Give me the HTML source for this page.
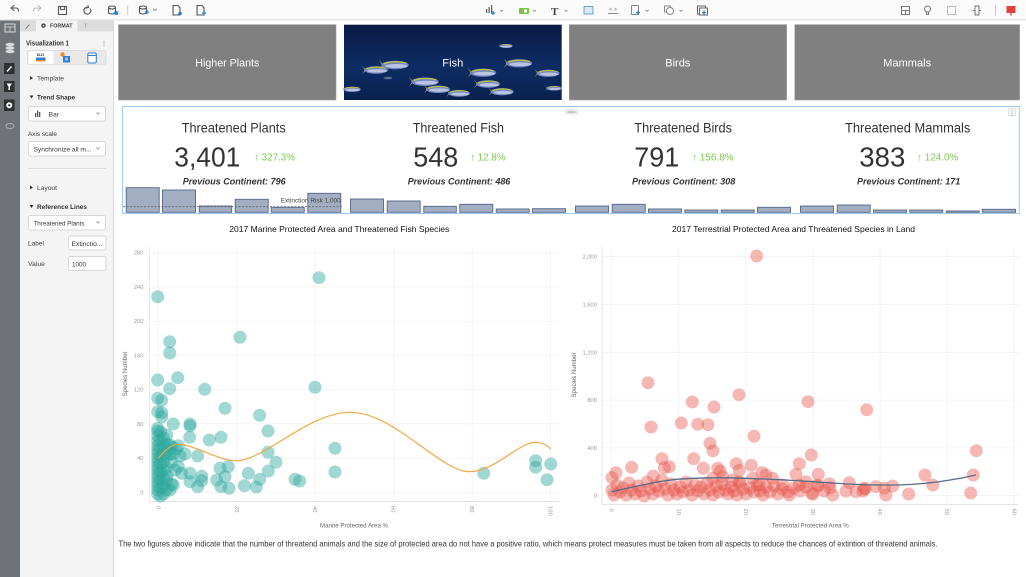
<!DOCTYPE html>
<html><head><meta charset="utf-8"><style>
html,body{margin:0;padding:0;background:#fff;width:1026px;height:577px;overflow:hidden}
svg{display:block}
</style></head><body>
<svg width="1026" height="577" viewBox="0 0 1026 577" xmlns="http://www.w3.org/2000/svg" font-family="'Liberation Sans', Arial, sans-serif">
<defs>
<linearGradient id="sea" x1="0" y1="0" x2="0" y2="1">
<stop offset="0" stop-color="#0a1a46"/><stop offset="0.55" stop-color="#0e2c64"/><stop offset="1" stop-color="#0a2150"/>
</linearGradient>
<g id="fish">
<polygon points="-13,-4 -9,0 -13,4 -10,0" fill="#c9c93a"/>
<ellipse cx="0" cy="0" rx="11" ry="3.4" fill="#6f86be"/>
<ellipse cx="1" cy="0.8" rx="9" ry="1.6" fill="#b9c4e2"/>
<path d="M-9,-1 Q0,-4 9,-1.5" stroke="#c5c63c" stroke-width="1" fill="none"/>
</g>
</defs>
<rect width="1026" height="577" fill="#fff"/>
<!-- toolbar -->
<rect x="0" y="0" width="1026" height="19" fill="#fbfbfb"/>
<rect x="0" y="19" width="1026" height="1.5" fill="#e6e6e6"/>
<g stroke="#555" stroke-width="1.1" fill="none" stroke-linecap="round">
<path d="M11,8 L14,5.5 M11,8 L14,10.5 M11,8 H16 Q18.5,8 18.5,11"/>
<path d="M41,8 L38,5.5 M41,8 L38,10.5 M41,8 H36 Q33.5,8 33.5,11" stroke="#bbb"/>
<rect x="58.5" y="6.5" width="8" height="8"/><rect x="60.5" y="6.5" width="4" height="3"/>
<path d="M90.5,9 A3.5,3.5 0 1 1 88,7.2"/><path d="M88,5.5 L88.5,7.5 L86.5,8"/>
<ellipse cx="112" cy="7.5" rx="3.5" ry="1.5"/><path d="M108.5,7.5 V13 Q112,15 115.5,13 V7.5"/>
<ellipse cx="143" cy="7.5" rx="3.5" ry="1.5"/><path d="M139.5,7.5 V13 Q143,15 146.5,13 V7.5"/>
<path d="M173,5.5 H178 L180,8 V15 H173 Z"/>
<path d="M197,5.5 H202 L204,8 V15 H197 Z"/>
<path d="M153.5,9 L155,10.5 L156.5,9" stroke="#999"/>
</g>
<line x1="127.7" y1="5.5" x2="127.7" y2="15" stroke="#ccc"/>
<g fill="#1f7fd6"><circle cx="116" cy="13" r="2"/><rect x="145" y="11.5" width="4" height="1.2"/><rect x="146.4" y="10" width="1.2" height="4"/>
<circle cx="180" cy="13.5" r="1.8"/><rect x="202" y="12.5" width="4" height="1.2"/><rect x="203.4" y="11" width="1.2" height="4"/></g>
<!-- right toolbar -->
<g fill="#666"><rect x="486" y="9" width="1.3" height="4"/><rect x="488.5" y="7" width="1.3" height="6"/><rect x="491" y="5" width="1.3" height="8"/></g>
<g fill="#1f7fd6"><rect x="491" y="12.5" width="4" height="1.2"/><rect x="492.4" y="11" width="1.2" height="4"/></g>
<rect x="519" y="8" width="10" height="6" rx="1" fill="#7cc242"/><rect x="524" y="9.5" width="3" height="3" fill="#fff"/>
<text x="551" y="15" font-family="'Liberation Serif',serif" font-size="11" font-weight="bold" fill="#444">T</text>
<rect x="584" y="6.5" width="9" height="7.5" fill="#dbe9f7" stroke="#4f8fd0" stroke-width="0.8"/>
<text x="613" y="11" font-size="5.5" fill="#666" text-anchor="middle">&lt; &gt;</text>
<rect x="608" y="13" width="10" height="1" fill="#888"/>
<rect x="631.5" y="5.5" width="7" height="9" fill="none" stroke="#888"/><rect x="636" y="12" width="4" height="1.2" fill="#1f7fd6"/><rect x="637.4" y="10.6" width="1.2" height="4" fill="#1f7fd6"/>
<rect x="664.5" y="6" width="6" height="6" fill="none" stroke="#888"/><circle cx="670" cy="11" r="3.5" fill="#fff" stroke="#888"/>
<rect x="697.5" y="6" width="8" height="8" fill="none" stroke="#666"/><rect x="699.5" y="8" width="8" height="7" fill="#fff" stroke="#666"/><rect x="702" y="12" width="4" height="1.2" fill="#1f7fd6"/><rect x="703.4" y="10.6" width="1.2" height="4" fill="#1f7fd6"/>
<g stroke="#999" stroke-width="0.9" fill="none">
<path d="M500,10 L501.5,11.5 L503,10"/><path d="M533,10 L534.5,11.5 L536,10"/><path d="M564.5,10 L566,11.5 L567.5,10"/><path d="M645.5,10 L647,11.5 L648.5,10"/><path d="M679.5,10 L681,11.5 L682.5,10"/>
</g>
<g stroke="#777" stroke-width="1" fill="none">
<rect x="901.5" y="6.5" width="8" height="8"/><path d="M901.5,10.5 H909.5 M905.5,10.5 V14.5"/>
<circle cx="927.5" cy="9" r="3"/><path d="M926.5,12 V14.5 H928.5 V12"/>
<rect x="947.5" y="6.5" width="8" height="8" stroke="#bbb"/>
<rect x="975" y="6" width="4" height="9"/><path d="M973,10.5 H975 M979,10.5 H981"/>
</g>
<line x1="995.5" y1="5" x2="995.5" y2="16" stroke="#ccc"/>
<rect x="1006.5" y="6" width="9" height="7" fill="#e0413a"/><rect x="1010.3" y="13" width="1.4" height="2.5" fill="#e0413a"/>
<!-- left rail -->
<rect x="0" y="20.5" width="20" height="557" fill="#6f7377"/>
<g fill="#d6d8da">
<rect x="5" y="24" width="10" height="8" fill="none" stroke="#d6d8da" stroke-width="1"/>
<path d="M5,27 H15 M10,27 V32" stroke="#d6d8da" stroke-width="0.8"/>
<ellipse cx="10" cy="44.5" rx="4.5" ry="1.8"/><ellipse cx="10" cy="48" rx="4.5" ry="1.8"/><ellipse cx="10" cy="51.5" rx="4.5" ry="1.8"/>
</g>
<rect x="4" y="63" width="10.5" height="11" fill="#2e2f31"/>
<path d="M7,71.5 L11.5,66.5" stroke="#fff" stroke-width="1.4"/>
<rect x="4" y="81" width="10.5" height="11" fill="#2e2f31"/>
<path d="M6.5,83.5 H12 L10,86.5 V90 H8.5 V86.5 Z" fill="#fff"/>
<rect x="4" y="99.5" width="10.5" height="11.5" fill="#2e2f31"/>
<circle cx="9.25" cy="105.2" r="3" fill="#fff"/><circle cx="9.25" cy="105.2" r="1.1" fill="#2e2f31"/>
<ellipse cx="10" cy="126" rx="4" ry="2.5" fill="none" stroke="#a9adb0" stroke-width="1"/>
<!-- panel -->
<rect x="20" y="20.5" width="93.5" height="557" fill="#f4f4f4"/>
<line x1="113.5" y1="20.5" x2="113.5" y2="577" stroke="#d9d9d9"/>
<rect x="20" y="20.5" width="16" height="11" fill="#dcdcdc"/>
<rect x="77.5" y="20.5" width="35.5" height="11" fill="#dcdcdc"/>
<path d="M25.5,29 L29.5,24.5" stroke="#777" stroke-width="0.9"/>
<circle cx="43.5" cy="25.6" r="2.2" fill="#444"/><circle cx="43.5" cy="25.6" r="0.8" fill="#f4f4f4"/>
<text x="50" y="27.6" font-size="5.4" font-weight="bold" fill="#444" textLength="22.5" lengthAdjust="spacingAndGlyphs">FORMAT</text>
<text x="83" y="28" font-size="6" fill="#888">⊤</text>
<text x="26" y="45.5" font-size="7.4" font-weight="bold" fill="#333" textLength="43" lengthAdjust="spacingAndGlyphs">Visualization 1</text>
<text x="104" y="46" font-size="7" fill="#777" text-anchor="middle">⋮</text>
<rect x="27.5" y="50.5" width="78.5" height="14" rx="2" fill="#e9e9e9" stroke="#dedede"/>
<rect x="28.5" y="51.2" width="25" height="12.6" rx="1.5" fill="#fff"/>
<text x="40.5" y="56" font-size="3.3" font-weight="bold" fill="#333" text-anchor="middle">$123</text>
<rect x="36" y="57.5" width="9.5" height="4" fill="#2f7fd0"/><rect x="36" y="60" width="9.5" height="1.5" fill="#f08a24"/>
<circle cx="62.5" cy="54.5" r="2.2" fill="#f08a24"/><rect x="63" y="56" width="7" height="6.5" fill="#2f7fd0"/><rect x="65" y="57.5" width="3" height="3" fill="#9cc6f0"/>
<rect x="87.8" y="53" width="8.5" height="10" rx="1.5" fill="#fff" stroke="#2f7fd0" stroke-width="1"/><rect x="87.8" y="55" width="8.5" height="1" fill="#2f7fd0"/>
<g font-size="6.8" fill="#444">
<path d="M30,76 L33,78 L30,80 Z" fill="#333"/><text x="37" y="80.3" textLength="27" lengthAdjust="spacingAndGlyphs">Template</text>
<path d="M29.5,95.5 L33.5,95.5 L31.5,98.5 Z" fill="#333"/><text x="37" y="99.6" font-weight="bold" fill="#333" textLength="38" lengthAdjust="spacingAndGlyphs">Trend Shape</text>
<rect x="28.5" y="106.5" width="77" height="14.5" rx="2" fill="#fff" stroke="#d7d7d7"/>
<rect x="35" y="113" width="1.3" height="4" fill="#555"/><rect x="37" y="110.5" width="1.3" height="6.5" fill="#555"/><rect x="39" y="112" width="1.3" height="5" fill="#555"/>
<text x="48.5" y="116.5" fill="#333">Bar</text>
<path d="M96.5,112.5 L98,114 L99.5,112.5" stroke="#888" stroke-width="0.8" fill="none"/>
<text x="28" y="136" textLength="29" lengthAdjust="spacingAndGlyphs">Axis scale</text>
<rect x="28.5" y="141.5" width="77" height="14.5" rx="2" fill="#fff" stroke="#d7d7d7"/>
<text x="33.5" y="151.6" fill="#333" textLength="58" lengthAdjust="spacingAndGlyphs">Synchronize all m...</text>
<path d="M96.5,147.5 L98,149 L99.5,147.5" stroke="#888" stroke-width="0.8" fill="none"/>
<line x1="28" y1="168.5" x2="106" y2="168.5" stroke="#dcdcdc"/>
<path d="M30,185.5 L33,187.5 L30,189.5 Z" fill="#333"/><text x="37" y="190" textLength="20" lengthAdjust="spacingAndGlyphs">Layout</text>
<path d="M29.5,205 L33.5,205 L31.5,208 Z" fill="#333"/><text x="37" y="209" font-weight="bold" fill="#333" textLength="50" lengthAdjust="spacingAndGlyphs">Reference Lines</text>
<rect x="28.5" y="215.5" width="77" height="14.5" rx="2" fill="#fff" stroke="#d7d7d7"/>
<text x="33.5" y="225.6" fill="#333" textLength="51" lengthAdjust="spacingAndGlyphs">Threatened Plants</text>
<path d="M96.5,221.5 L98,223 L99.5,221.5" stroke="#888" stroke-width="0.8" fill="none"/>
<text x="28" y="245.6" textLength="16" lengthAdjust="spacingAndGlyphs">Label</text>
<rect x="68.5" y="236" width="37.5" height="14" rx="2" fill="#fff" stroke="#d7d7d7"/>
<text x="71.5" y="245.8" fill="#333" textLength="31" lengthAdjust="spacingAndGlyphs">Extinctio...</text>
<text x="28" y="266" textLength="17" lengthAdjust="spacingAndGlyphs">Value</text>
<rect x="68.5" y="256.5" width="37.5" height="14" rx="2" fill="#fff" stroke="#d7d7d7"/>
<text x="72" y="266.3" fill="#333" textLength="14" lengthAdjust="spacingAndGlyphs">1000</text>
</g>
<!-- tiles -->
<rect x="118.5" y="24.7" width="217.5" height="75.3" fill="#808080" stroke="#9a9a9a" stroke-width="0.6"/>
<rect x="344" y="24.7" width="217.7" height="75.3" fill="url(#sea)"/>
<g>
<use href="#fish" transform="translate(376,70) scale(1.1)"/>
<use href="#fish" transform="translate(395,65) scale(1.25)"/>
<use href="#fish" transform="translate(483,72.7) scale(1.2)"/>
<use href="#fish" transform="translate(519,63.3) scale(1.2)"/>
<use href="#fish" transform="translate(548,73.3) scale(1.05)"/>
<use href="#fish" transform="translate(506,46) scale(0.6)"/>
<use href="#fish" transform="translate(425,81.7) scale(1.25)"/>
<use href="#fish" transform="translate(438,89.3) scale(1.1)"/>
<use href="#fish" transform="translate(459,93.3) scale(1.0)"/>
<use href="#fish" transform="translate(488,84) scale(1.1)"/>
<use href="#fish" transform="translate(502,91.7) scale(1.05)"/>
<use href="#fish" transform="translate(352,89.3) scale(0.8)"/>
<use href="#fish" transform="translate(554,88.3) scale(0.7)"/>
<use href="#fish" transform="translate(388,78) scale(0.4)" opacity="0.5"/>
</g>
<rect x="569.3" y="24.7" width="217.3" height="75.3" fill="#808080" stroke="#9a9a9a" stroke-width="0.6"/>
<rect x="794.8" y="24.7" width="224.8" height="75.3" fill="#808080" stroke="#9a9a9a" stroke-width="0.6"/>
<g font-size="11" fill="#fff" text-anchor="middle">
<text x="227.3" y="66.3" textLength="64" lengthAdjust="spacingAndGlyphs">Higher Plants</text>
<text x="452.8" y="66.3" textLength="21" lengthAdjust="spacingAndGlyphs">Fish</text>
<text x="677.8" y="66.3" textLength="25" lengthAdjust="spacingAndGlyphs">Birds</text>
<text x="907.2" y="66.3" textLength="48" lengthAdjust="spacingAndGlyphs">Mammals</text>
</g>
<!-- KPI box -->
<rect x="122.5" y="106.5" width="896.8" height="107" fill="#fff" stroke="#9fcbf3" stroke-width="1"/>
<rect x="565.5" y="109.5" width="12" height="4.5" rx="1" fill="#f2f2f2" stroke="#cfcfcf" stroke-width="0.6"/>
<path d="M567.5,111.2 H575.5 M567.5,112.5 H575.5" stroke="#999" stroke-width="0.5"/>
<rect x="1008.5" y="108.5" width="7" height="7.5" rx="1" fill="#f5f5f5" stroke="#d5d5d5" stroke-width="0.6"/>
<text x="1012" y="114.8" font-size="6" fill="#777" text-anchor="middle">⋮</text>
<g fill="#333">
<text x="181.7" y="132.3" font-size="13.5" textLength="104" lengthAdjust="spacingAndGlyphs">Threatened Plants</text>
<text x="412.7" y="132.3" font-size="13.5" textLength="91.3" lengthAdjust="spacingAndGlyphs">Threatened Fish</text>
<text x="634.3" y="132.3" font-size="13.5" textLength="97.7" lengthAdjust="spacingAndGlyphs">Threatened Birds</text>
<text x="845" y="132.3" font-size="13.5" textLength="125.3" lengthAdjust="spacingAndGlyphs">Threatened Mammals</text>
<text x="174.3" y="166.7" font-size="28" textLength="66" lengthAdjust="spacingAndGlyphs">3,401</text>
<text x="413.3" y="166.7" font-size="28" textLength="45" lengthAdjust="spacingAndGlyphs">548</text>
<text x="634.3" y="166.7" font-size="28" textLength="45" lengthAdjust="spacingAndGlyphs">791</text>
<text x="859.3" y="166.7" font-size="28" textLength="46" lengthAdjust="spacingAndGlyphs">383</text>
<g font-size="9.5" font-weight="bold" font-style="italic">
<text x="182.7" y="184.3" textLength="103" lengthAdjust="spacingAndGlyphs">Previous Continent: 796</text>
<text x="407.7" y="184.3" textLength="102.6" lengthAdjust="spacingAndGlyphs">Previous Continent: 486</text>
<text x="632" y="184.3" textLength="103.3" lengthAdjust="spacingAndGlyphs">Previous Continent: 308</text>
<text x="857" y="184.3" textLength="103.3" lengthAdjust="spacingAndGlyphs">Previous Continent: 171</text>
</g>
</g>
<g fill="#7cc84f" font-size="10">
<text x="254" y="160.7" textLength="41" lengthAdjust="spacingAndGlyphs">↑ 327.3%</text>
<text x="470" y="160.7" textLength="35.7" lengthAdjust="spacingAndGlyphs">↑ 12.8%</text>
<text x="692" y="160.7" textLength="41.7" lengthAdjust="spacingAndGlyphs">↑ 156.8%</text>
<text x="917" y="160.7" textLength="41.3" lengthAdjust="spacingAndGlyphs">↑ 124.0%</text>
</g>
<!-- bars -->
<g fill="#a3aec2" stroke="#52658a" stroke-width="0.9">
<rect x="126.2" y="187.7" width="33" height="24.6"/>
<rect x="162.5" y="190" width="33" height="22.3"/>
<rect x="199.2" y="206" width="32.5" height="6.3"/>
<rect x="235.2" y="199.3" width="33" height="13"/>
<rect x="271.2" y="207.3" width="33" height="5"/>
<rect x="307.8" y="193.3" width="33" height="19"/>
<rect x="350.5" y="199" width="33" height="13.3"/>
<rect x="387.2" y="201" width="33" height="11.3"/>
<rect x="423.8" y="206.3" width="32.5" height="6"/>
<rect x="459.8" y="204.3" width="33" height="8"/>
<rect x="496.2" y="209" width="33" height="3.3"/>
<rect x="532.5" y="208.7" width="33" height="3.6"/>
<rect x="575.5" y="206" width="33" height="6.3"/>
<rect x="612.2" y="204.3" width="33" height="8"/>
<rect x="648.5" y="209" width="33" height="3.3"/>
<rect x="684.8" y="210" width="33" height="2.3"/>
<rect x="721.2" y="210" width="33" height="2.3"/>
<rect x="757.5" y="207.3" width="33" height="5"/>
<rect x="800.5" y="206" width="33" height="6.3"/>
<rect x="837.2" y="205" width="33" height="7.3"/>
<rect x="873.5" y="210" width="33" height="2.3"/>
<rect x="909.8" y="210" width="33" height="2.3"/>
<rect x="946.2" y="211" width="33" height="1.3"/>
<rect x="982.5" y="209.3" width="33" height="3"/>
</g>
<line x1="123" y1="206.7" x2="341.7" y2="206.7" stroke="#666" stroke-width="0.8" stroke-dasharray="2,1.5"/>
<text x="280.7" y="202.6" font-size="6.6" fill="#444" textLength="60" lengthAdjust="spacingAndGlyphs">Extinction Risk 1,000</text>
<!-- chart titles -->
<text x="229.3" y="231.8" font-size="8.4" fill="#111" textLength="220" lengthAdjust="spacingAndGlyphs">2017 Marine Protected Area and Threatened Fish Species</text>
<text x="672" y="231.8" font-size="8.4" fill="#111" textLength="243" lengthAdjust="spacingAndGlyphs">2017 Terrestrial Protected Area and Threatened Species in Land</text>
<!-- chart 1 grid -->
<g stroke="#f1f1f1" stroke-width="0.8">
<line x1="158.3" y1="247" x2="158.3" y2="501"/><line x1="236.8" y1="247" x2="236.8" y2="501"/><line x1="315.2" y1="247" x2="315.2" y2="501"/><line x1="393.7" y1="247" x2="393.7" y2="501"/><line x1="472.2" y1="247" x2="472.2" y2="501"/><line x1="550.7" y1="247" x2="550.7" y2="501"/>
<line x1="150" y1="252.7" x2="559" y2="252.7"/><line x1="150" y1="286.9" x2="559" y2="286.9"/><line x1="150" y1="321.2" x2="559" y2="321.2"/><line x1="150" y1="355.4" x2="559" y2="355.4"/><line x1="150" y1="389.6" x2="559" y2="389.6"/><line x1="150" y1="423.8" x2="559" y2="423.8"/><line x1="150" y1="458.1" x2="559" y2="458.1"/><line x1="150" y1="492.3" x2="559" y2="492.3"/>
</g>
<path d="M149.5,247 V501.5 H559" stroke="#e4e4e4" fill="none" stroke-width="0.9"/>
<g font-size="5.8" fill="#999" text-anchor="end">
<text x="143.5" y="254.7">280</text><text x="143.5" y="288.9">240</text><text x="143.5" y="323.2">200</text><text x="143.5" y="357.4">160</text><text x="143.5" y="391.6">120</text><text x="143.5" y="425.8">80</text><text x="143.5" y="460.1">40</text><text x="143.5" y="494.3">0</text>
</g>
<g font-size="5.8" fill="#999">
<text transform="translate(158.3,506) rotate(90)" dy="0.35em">0</text>
<text transform="translate(236.8,506) rotate(90)" dy="0.35em">20</text>
<text transform="translate(315.2,506) rotate(90)" dy="0.35em">40</text>
<text transform="translate(393.7,506) rotate(90)" dy="0.35em">60</text>
<text transform="translate(472.2,506) rotate(90)" dy="0.35em">80</text>
<text transform="translate(550.7,506) rotate(90)" dy="0.35em">100</text>
</g>
<text x="354" y="527.3" font-size="6" fill="#666" text-anchor="middle" textLength="68" lengthAdjust="spacingAndGlyphs">Marine Protected Area %</text>
<text transform="translate(127,374) rotate(-90)" font-size="6" fill="#666" text-anchor="middle" textLength="45" lengthAdjust="spacingAndGlyphs">Species Number</text>
<!-- chart 1 points -->
<g fill="#2fa89e" fill-opacity="0.45">
<circle cx="157.7" cy="296.7" r="6.5"/><circle cx="319" cy="277.7" r="6.5"/><circle cx="240" cy="337.3" r="6.5"/><circle cx="169.7" cy="341.7" r="6.5"/><circle cx="169.7" cy="353" r="6.5"/><circle cx="157.7" cy="380" r="6.5"/><circle cx="177.7" cy="377.7" r="6.5"/><circle cx="169.7" cy="388.7" r="6.5"/><circle cx="204.7" cy="389.3" r="6.5"/><circle cx="315" cy="387.3" r="6.5"/><circle cx="157.7" cy="398.3" r="6.5"/><circle cx="161.7" cy="400.3" r="6.5"/><circle cx="157.7" cy="411.7" r="6.5"/><circle cx="161.7" cy="412.7" r="6.5"/><circle cx="161.7" cy="416.7" r="6.5"/><circle cx="225" cy="408.3" r="6.5"/><circle cx="259.7" cy="415.3" r="6.5"/><circle cx="173.3" cy="424" r="6.5"/><circle cx="190" cy="424" r="6.5"/><circle cx="190" cy="426" r="6.5"/><circle cx="157.7" cy="428.3" r="6.5"/><circle cx="157.7" cy="431" r="6.5"/><circle cx="166.7" cy="435" r="6.5"/><circle cx="268" cy="431" r="6.5"/><circle cx="189.7" cy="437.3" r="6.5"/><circle cx="209.3" cy="440" r="6.5"/><circle cx="221" cy="437.3" r="6.5"/><circle cx="178.3" cy="445.7" r="6.5"/><circle cx="335" cy="448.3" r="6.5"/><circle cx="170" cy="445" r="6.5"/><circle cx="173.3" cy="454" r="6.5"/><circle cx="185" cy="454" r="6.5"/><circle cx="197.7" cy="456" r="6.5"/><circle cx="268" cy="452.3" r="6.5"/><circle cx="276" cy="462.3" r="6.5"/><circle cx="178.3" cy="466.7" r="6.5"/><circle cx="181.7" cy="473.3" r="6.5"/><circle cx="190" cy="473.3" r="6.5"/><circle cx="201.7" cy="476.3" r="6.5"/><circle cx="220" cy="468.3" r="6.5"/><circle cx="228.3" cy="466.7" r="6.5"/><circle cx="248.3" cy="473.3" r="6.5"/><circle cx="268.3" cy="471" r="6.5"/><circle cx="335" cy="472" r="6.5"/><circle cx="483.7" cy="473.3" r="6.5"/><circle cx="535.7" cy="460.7" r="6.5"/><circle cx="535.7" cy="467.3" r="6.5"/><circle cx="550.7" cy="464" r="6.5"/><circle cx="547" cy="479.7" r="6.5"/><circle cx="171.7" cy="484.3" r="6.5"/><circle cx="190" cy="481.7" r="6.5"/><circle cx="197.7" cy="486.7" r="6.5"/><circle cx="201.7" cy="480.7" r="6.5"/><circle cx="216.7" cy="480" r="6.5"/><circle cx="221" cy="486.7" r="6.5"/><circle cx="225" cy="476.7" r="6.5"/><circle cx="229" cy="488.3" r="6.5"/><circle cx="244.3" cy="485.7" r="6.5"/><circle cx="256.3" cy="487" r="6.5"/><circle cx="259.7" cy="479.3" r="6.5"/><circle cx="295" cy="479.3" r="6.5"/><circle cx="299.7" cy="481" r="6.5"/><circle cx="173.3" cy="485" r="6.5"/><circle cx="170" cy="454" r="6.5"/>
<circle cx="157.7" cy="436" r="6.5"/><circle cx="157.7" cy="441" r="6.5"/><circle cx="157.7" cy="446" r="6.5"/><circle cx="157.7" cy="450" r="6.5"/><circle cx="157.7" cy="454" r="6.5"/><circle cx="157.7" cy="458" r="6.5"/><circle cx="157.7" cy="462" r="6.5"/><circle cx="157.7" cy="466" r="6.5"/><circle cx="157.7" cy="470" r="6.5"/><circle cx="157.7" cy="474" r="6.5"/><circle cx="157.7" cy="478" r="6.5"/><circle cx="157.7" cy="482" r="6.5"/><circle cx="157.7" cy="486" r="6.5"/><circle cx="157.7" cy="490" r="6.5"/><circle cx="157.7" cy="494" r="6.5"/>
<circle cx="160.5" cy="432" r="6.5"/><circle cx="160.5" cy="440" r="6.5"/><circle cx="160.5" cy="448" r="6.5"/><circle cx="160.5" cy="456" r="6.5"/><circle cx="160.5" cy="464" r="6.5"/><circle cx="160.5" cy="472" r="6.5"/><circle cx="160.5" cy="480" r="6.5"/><circle cx="160.5" cy="488" r="6.5"/><circle cx="160.5" cy="496" r="6.5"/>
<circle cx="163.5" cy="438" r="6.5"/><circle cx="163.5" cy="446" r="6.5"/><circle cx="163.5" cy="454" r="6.5"/><circle cx="163.5" cy="462" r="6.5"/><circle cx="163.5" cy="470" r="6.5"/><circle cx="163.5" cy="478" r="6.5"/><circle cx="163.5" cy="486" r="6.5"/><circle cx="163.5" cy="494" r="6.5"/>
<circle cx="166.5" cy="444" r="6.5"/><circle cx="166.5" cy="456" r="6.5"/><circle cx="166.5" cy="468" r="6.5"/><circle cx="166.5" cy="480" r="6.5"/><circle cx="166.5" cy="490" r="6.5"/>
<circle cx="168" cy="450" r="6.5"/><circle cx="172" cy="447" r="6.5"/><circle cx="176" cy="449" r="6.5"/><circle cx="180" cy="456" r="6.5"/><circle cx="171" cy="462" r="6.5"/><circle cx="175" cy="470" r="6.5"/><circle cx="167" cy="476" r="6.5"/><circle cx="170" cy="490" r="6.5"/>
</g>
<path d="M158.3,458.3 C165,450 172,444 178.3,444.3 C195,444.5 220,462 238.3,460.7 C265,459 310,412 350.3,412.3 C395,412.6 440,472 470,471.7 C495,471.4 520,441 536.7,442.3 C545,443 549,447 550.7,449" stroke="#f4a742" stroke-width="1.2" fill="none"/>
<!-- chart 2 grid -->
<g stroke="#f1f1f1" stroke-width="0.8">
<line x1="611.7" y1="247" x2="611.7" y2="504"/><line x1="678.8" y1="247" x2="678.8" y2="504"/><line x1="745.9" y1="247" x2="745.9" y2="504"/><line x1="813" y1="247" x2="813" y2="504"/><line x1="880.1" y1="247" x2="880.1" y2="504"/><line x1="947.2" y1="247" x2="947.2" y2="504"/><line x1="1014.3" y1="247" x2="1014.3" y2="504"/>
<line x1="602" y1="256.7" x2="1019" y2="256.7"/><line x1="602" y1="304.5" x2="1019" y2="304.5"/><line x1="602" y1="352.3" x2="1019" y2="352.3"/><line x1="602" y1="400.1" x2="1019" y2="400.1"/><line x1="602" y1="447.9" x2="1019" y2="447.9"/><line x1="602" y1="495.7" x2="1019" y2="495.7"/>
</g>
<path d="M602,247 V504.5 H1019" stroke="#e4e4e4" fill="none" stroke-width="0.9"/>
<g font-size="5.8" fill="#999" text-anchor="end">
<text x="597" y="258.7">2,000</text><text x="597" y="306.5">1,600</text><text x="597" y="354.3">1,200</text><text x="597" y="402.1">800</text><text x="597" y="449.9">400</text><text x="597" y="497.7">0</text>
</g>
<g font-size="5.8" fill="#999">
<text transform="translate(611.7,508.5) rotate(90)" dy="0.35em">0</text>
<text transform="translate(678.8,508.5) rotate(90)" dy="0.35em">10</text>
<text transform="translate(745.9,508.5) rotate(90)" dy="0.35em">20</text>
<text transform="translate(813,508.5) rotate(90)" dy="0.35em">30</text>
<text transform="translate(880.1,508.5) rotate(90)" dy="0.35em">40</text>
<text transform="translate(947.2,508.5) rotate(90)" dy="0.35em">50</text>
<text transform="translate(1014.3,508.5) rotate(90)" dy="0.35em">60</text>
</g>
<text x="810.3" y="527.3" font-size="6" fill="#666" text-anchor="middle" textLength="77" lengthAdjust="spacingAndGlyphs">Terrestrial Protected Area %</text>
<text transform="translate(576,375) rotate(-90)" font-size="6" fill="#666" text-anchor="middle" textLength="45" lengthAdjust="spacingAndGlyphs">Species Number</text>
<!-- chart 2 points -->
<g fill="#e8564d" fill-opacity="0.42">
<circle cx="756.7" cy="256" r="6.5"/><circle cx="648" cy="382.7" r="6.5"/><circle cx="651" cy="427" r="6.5"/><circle cx="739" cy="394.7" r="6.5"/><circle cx="808" cy="401.7" r="6.5"/><circle cx="866.7" cy="409.7" r="6.5"/><circle cx="692.3" cy="402" r="6.5"/><circle cx="714" cy="407" r="6.5"/><circle cx="681.3" cy="423" r="6.5"/><circle cx="697.7" cy="424.3" r="6.5"/><circle cx="708" cy="424.7" r="6.5"/><circle cx="754" cy="436.3" r="6.5"/><circle cx="710" cy="443.3" r="6.5"/><circle cx="713" cy="450.7" r="6.5"/><circle cx="976.3" cy="450.7" r="6.5"/><circle cx="811.3" cy="455" r="6.5"/><circle cx="662" cy="458.7" r="6.5"/><circle cx="693.7" cy="458.7" r="6.5"/><circle cx="631.7" cy="467.3" r="6.5"/><circle cx="664.3" cy="467.7" r="6.5"/><circle cx="703.3" cy="468.3" r="6.5"/><circle cx="717.7" cy="468.3" r="6.5"/><circle cx="736.3" cy="463.7" r="6.5"/><circle cx="751.3" cy="465.3" r="6.5"/><circle cx="799.3" cy="463.7" r="6.5"/><circle cx="616" cy="472.7" r="6.5"/><circle cx="653.3" cy="476" r="6.5"/><circle cx="720.3" cy="471" r="6.5"/><circle cx="739.3" cy="470.3" r="6.5"/><circle cx="762" cy="472.7" r="6.5"/><circle cx="796" cy="474.3" r="6.5"/><circle cx="818.3" cy="474.3" r="6.5"/><circle cx="612" cy="477.7" r="6.5"/><circle cx="925" cy="475" r="6.5"/><circle cx="973.3" cy="475" r="6.5"/><circle cx="932.7" cy="485" r="6.5"/><circle cx="829.3" cy="483.7" r="6.5"/><circle cx="849.3" cy="482.7" r="6.5"/><circle cx="876" cy="486.7" r="6.5"/><circle cx="864.3" cy="488.3" r="6.5"/><circle cx="892.7" cy="486" r="6.5"/><circle cx="884.3" cy="488.3" r="6.5"/><circle cx="846" cy="491" r="6.5"/><circle cx="856" cy="491.7" r="6.5"/><circle cx="908.7" cy="494" r="6.5"/><circle cx="970.7" cy="493" r="6.5"/><circle cx="832.7" cy="495" r="6.5"/><circle cx="789.3" cy="495" r="6.5"/><circle cx="886" cy="495" r="6.5"/><circle cx="812.7" cy="494.3" r="6.5"/><circle cx="669.3" cy="466.7" r="6.5"/><circle cx="712.7" cy="478.3" r="6.5"/><circle cx="766" cy="475" r="6.5"/><circle cx="772.7" cy="478.3" r="6.5"/><circle cx="799.3" cy="485" r="6.5"/><circle cx="806" cy="481.7" r="6.5"/><circle cx="817.7" cy="485" r="6.5"/><circle cx="782.7" cy="485" r="6.5"/><circle cx="739.3" cy="481.7" r="6.5"/><circle cx="752.7" cy="478.3" r="6.5"/><circle cx="759.3" cy="485" r="6.5"/><circle cx="722.7" cy="476.7" r="6.5"/><circle cx="732.7" cy="480" r="6.5"/><circle cx="865" cy="489" r="6.5"/><circle cx="863" cy="491" r="6.5"/>
<circle cx="612" cy="490" r="6.5"/><circle cx="614" cy="495" r="6.5"/><circle cx="617" cy="485" r="6.5"/><circle cx="620" cy="492" r="6.5"/><circle cx="623" cy="488" r="6.5"/><circle cx="626" cy="495" r="6.5"/><circle cx="629" cy="483" r="6.5"/><circle cx="632" cy="490" r="6.5"/><circle cx="635" cy="494" r="6.5"/><circle cx="638" cy="486" r="6.5"/><circle cx="641" cy="491" r="6.5"/><circle cx="644" cy="496" r="6.5"/><circle cx="647" cy="482" r="6.5"/><circle cx="650" cy="489" r="6.5"/><circle cx="653" cy="494" r="6.5"/><circle cx="656" cy="486" r="6.5"/><circle cx="659" cy="491" r="6.5"/><circle cx="662" cy="480" r="6.5"/><circle cx="665" cy="489" r="6.5"/><circle cx="668" cy="495" r="6.5"/><circle cx="671" cy="484" r="6.5"/><circle cx="674" cy="490" r="6.5"/><circle cx="677" cy="494" r="6.5"/><circle cx="680" cy="487" r="6.5"/><circle cx="683" cy="492" r="6.5"/><circle cx="686" cy="482" r="6.5"/><circle cx="689" cy="490" r="6.5"/><circle cx="692" cy="495" r="6.5"/><circle cx="695" cy="485" r="6.5"/><circle cx="698" cy="491" r="6.5"/><circle cx="701" cy="487" r="6.5"/><circle cx="704" cy="494" r="6.5"/><circle cx="707" cy="483" r="6.5"/><circle cx="710" cy="490" r="6.5"/><circle cx="713" cy="495" r="6.5"/><circle cx="716" cy="486" r="6.5"/><circle cx="719" cy="492" r="6.5"/><circle cx="722" cy="484" r="6.5"/><circle cx="725" cy="490" r="6.5"/><circle cx="728" cy="494" r="6.5"/><circle cx="731" cy="487" r="6.5"/><circle cx="734" cy="491" r="6.5"/><circle cx="737" cy="495" r="6.5"/><circle cx="740" cy="483" r="6.5"/><circle cx="743" cy="489" r="6.5"/><circle cx="746" cy="494" r="6.5"/><circle cx="750" cy="488" r="6.5"/><circle cx="754" cy="492" r="6.5"/><circle cx="757" cy="485" r="6.5"/><circle cx="760" cy="491" r="6.5"/><circle cx="763" cy="495" r="6.5"/><circle cx="766" cy="487" r="6.5"/><circle cx="770" cy="492" r="6.5"/><circle cx="774" cy="486" r="6.5"/><circle cx="778" cy="494" r="6.5"/><circle cx="782" cy="489" r="6.5"/><circle cx="788" cy="492" r="6.5"/><circle cx="794" cy="488" r="6.5"/><circle cx="800" cy="491" r="6.5"/><circle cx="806" cy="487" r="6.5"/><circle cx="812" cy="493" r="6.5"/><circle cx="818" cy="486" r="6.5"/><circle cx="824" cy="491" r="6.5"/><circle cx="830" cy="488" r="6.5"/>
</g>
<polyline points="611.7,491.7 628,488 645,484.5 660,481.5 676,479.3 693,478.3 710,477.8 728,477.8 746,478.3 763,479 780,479.7 796,480.6 812.7,481.7 830,482.9 848,484 866,484.8 882.7,485 898,485 912,484.4 925,483.3 938,481.9 950,480 963,477.8 976,475" stroke="#5b6b86" stroke-width="1.3" fill="none" stroke-linejoin="round"/>
<!-- footer text -->
<text x="118.5" y="546.5" font-size="8.4" fill="#333" textLength="819" lengthAdjust="spacingAndGlyphs">The two figures above indicate that the number of threatend animals and the size of protected area do not have a positive ratio, which means protect measures must be taken from all aspects to reduce the chances of extintion of threatend animals.</text>
</svg>
</body></html>
